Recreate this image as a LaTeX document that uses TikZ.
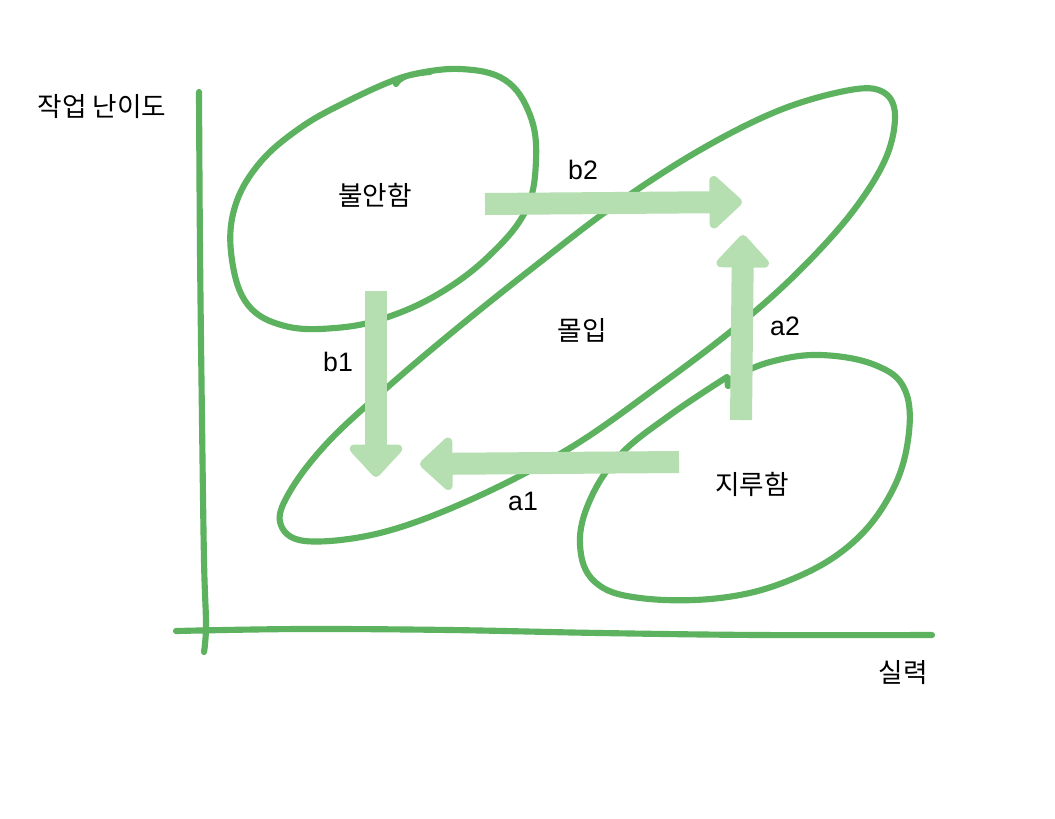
\documentclass[tikz,border=0pt]{standalone}
\usepackage{fontspec}
\setmainfont{Noto Sans CJK KR}
\newfontfamily\latinfont{Liberation Sans}
\usetikzlibrary{arrows.meta}
\definecolor{lineg}{HTML}{5CB25F}
\definecolor{arrg}{HTML}{B5DEB1}
\tikzset{
  sketch/.style={draw=lineg, line width=4.6pt, line cap=round, line join=round},
  bigarrow/.style={draw=arrg, line width=16.5pt, -{Triangle[width=46pt,length=26pt,round]}},
  lbl/.style={font=\fontsize{20}{22}\selectfont, text=black, inner sep=0pt},
  llbl/.style={font=\latinfont\fontsize{20}{22}\selectfont, text=black, inner sep=0pt}
}
\begin{document}
\begin{tikzpicture}[x=0.75pt,y=-0.75pt]
\useasboundingbox[fill=white] (0,0) rectangle (1055,818);
% axes
\draw[sketch] plot[smooth, tension=0.6] coordinates {(199,92) (200,250) (202,420) (204,560) (206,625) (204,652)};
\draw[sketch] plot[smooth, tension=0.6] coordinates {(176,631) (300,629) (450,630) (600,633) (760,635) (932,635)};
% anxiety blob
\draw[sketch] plot[smooth, tension=0.65] coordinates {(396,84) (410,75) (460,69) (505,80) (530,115) (536,160) (526,210) (490,255) (440,293) (385,318) (335,328) (285,326) (248,305) (232,260) (234,210) (258,165) (300,128) (350,100) (400,78) (430,72)};
% flow ellipse
\draw[sketch] plot[smooth cycle, tension=0.6] coordinates {(850,90) (883,92) (895,115) (885,160) (850,215) (795,275) (735,328) (660,385) (570,448) (470,500) (380,533) (305,541) (280,522) (292,488) (330,440) (390,385) (455,330) (530,270) (615,205) (700,150) (780,110)};
% boredom blob
\draw[sketch] plot[smooth, tension=0.65] coordinates {(728,386) (733,378) (770,362) (820,355) (875,365) (905,390) (908,440) (890,495) (850,545) (790,580) (720,598) (640,598) (595,582) (580,545) (590,500) (620,455) (670,415) (727,377)};
% coordinates for arrows
\coordinate (b2s) at (485,204);
\coordinate (b2e) at (742,202);
\coordinate (a2s) at (741,420);
\coordinate (a2e) at (743,235);
\coordinate (a1s) at (679,462);
\coordinate (a1e) at (420,464);
\coordinate (b1s) at (376,291);
\coordinate (b1e) at (376,477);
\draw[bigarrow] (b2s) -- (b2e);
\draw[bigarrow] (a2s) -- (a2e);
\draw[bigarrow] (a1s) -- (a1e);
\draw[bigarrow] (b1s) -- (b1e);
% labels
\node[lbl] (anx) at (375,195) {불안함};
\node[llbl] (lb2) at (583,170) {b2};
\node[lbl] (flow) at (582,330) {몰입};
\node[llbl] (la2) at (785,326) {a2};
\node[llbl] (lb1) at (338,362) {b1};
\node[llbl] (la1) at (523,501) {a1};
\node[lbl] (bore) at (752,484) {지루함};
\node[lbl] (ylab) at (102,107) {작업 난이도};
\node[lbl] (xlab) at (903,673) {실력};
\end{tikzpicture}
\end{document}
